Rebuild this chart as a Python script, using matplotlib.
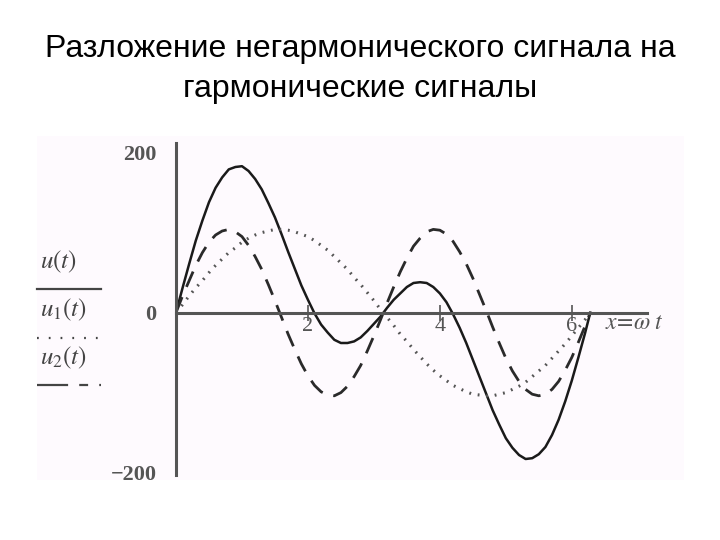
import matplotlib.pyplot as plt
from matplotlib.patches import Rectangle

plt.rcParams['mathtext.fontset'] = 'stix'

# values, x = omega*t
x = [0.0, 0.1, 0.2, 0.3, 0.4, 0.5, 0.6, 0.7, 0.8, 0.9, 1.0, 1.1, 1.2, 1.3, 1.4, 1.5,
     1.6, 1.7, 1.8, 1.9, 2.0, 2.1, 2.2, 2.3, 2.4, 2.5, 2.6, 2.7, 2.8, 2.9, 3.0, 3.1,
     3.2, 3.3, 3.4, 3.5, 3.6, 3.7, 3.8, 3.9, 4.0, 4.1, 4.2, 4.3, 4.4, 4.5, 4.6, 4.7,
     4.8, 4.9, 5.0, 5.1, 5.2, 5.3, 5.4, 5.5, 5.6, 5.7, 5.8, 5.9, 6.0, 6.1, 6.2, 6.28]
u1 = [0, 10, 21, 31, 40, 50, 59, 67, 75, 81, 88, 93, 97, 100, 102, 104,
      104, 103, 101, 98, 95, 90, 84, 78, 70, 62, 54, 44, 35, 25, 15, 4,
      -6, -16, -27, -36, -46, -55, -64, -72, -79, -85, -91, -95, -99, -102, -103, -104,
      -104, -102, -100, -96, -92, -87, -80, -73, -66, -57, -48, -39, -29, -19, -9, 0]
u2 = [0, 21, 40, 59, 75, 88, 97, 102, 104, 101, 95, 84, 70, 54, 35, 15,
      -6, -27, -46, -64, -79, -91, -99, -103, -104, -100, -92, -80, -66, -48, -29, -9,
      12, 32, 51, 68, 83, 93, 101, 104, 103, 98, 89, 76, 61, 43, 23, 3,
      -18, -38, -57, -73, -86, -96, -102, -104, -102, -96, -86, -72, -56, -37, -17, 0]
u = [0, 31, 61, 90, 115, 138, 156, 169, 179, 182, 183, 177, 167, 154, 137, 119,
     98, 76, 55, 34, 16, -1, -15, -25, -34, -38, -38, -36, -31, -23, -14, -5,
     6, 16, 24, 32, 37, 38, 37, 32, 24, 13, -2, -19, -38, -59, -80, -101,
     -122, -140, -157, -169, -178, -183, -182, -177, -168, -153, -134, -111, -85, -56, -26, 0]

yticks = [-200, 0, 200]
ytick_labels = ['\u2212200', '0', '200']
xticks = [2, 4, 6]

title = 'Разложение негармонического сигнала на\nгармонические сигналы'

W, H = 720, 540
fig = plt.figure(figsize=(7.2, 5.4), dpi=100)
fig.patch.set_facecolor('white')

# faint tinted panel behind the chart
fig.patches.append(Rectangle((37 / W, 1 - 480 / H), (684 - 37) / W, (480 - 136) / H,
                             transform=fig.transFigure, facecolor='#fefafe',
                             edgecolor='none', zorder=-5))

fig.text(0.5, 1 - 69 / H, title, ha='center', va='center', fontsize=23,
         family='Liberation Sans', linespacing=1.45)

# axes: x=0 at px 176, x=7.14 at px 647; y=212 at px 143, y=-203 at px 475
ax = fig.add_axes([176 / W, 1 - 475 / H, (647 - 176) / W, (475 - 143) / H])
ax.patch.set_alpha(0)
ax.set_zorder(2)
ax.set_xlim(0, 7.14)
ax.set_ylim(-203, 212)

ax.plot(x, u, color='#1a1a1a', lw=1.8, solid_joinstyle='round')
ax.plot(x, u1, color='#555555', lw=2.2, linestyle=(0, (0.6, 2.2)))
ax.plot(x, u2, color='#2a2a2a', lw=2.0, linestyle=(0, (6, 4)))

for side in ['top', 'right']:
    ax.spines[side].set_visible(False)
ax.spines['bottom'].set_position(('data', 0))
ax.spines['left'].set_color('#555555')
ax.spines['bottom'].set_color('#555555')
ax.spines['left'].set_linewidth(2.2)
ax.spines['bottom'].set_linewidth(2.2)

ax.set_yticks(yticks)
ax.set_yticklabels(ytick_labels, family='Liberation Serif', fontsize=16, color='#555555',
                   fontweight='bold')
ax.tick_params(axis='y', length=0, pad=14)
ax.set_xticks(xticks)
ax.set_xticklabels([str(t) for t in xticks], family='Liberation Serif', fontsize=16,
                   color='#555555')
ax.tick_params(axis='x', direction='inout', length=12, width=1.2, color='#555555', pad=-3)

ax.text(6.5, -12, r'$x\!=\!\omega\;t$', fontsize=17, color='#555555', ha='left', va='center')

# legend on the left, drawn as in the picture
leg_items = [(r'$u(t)$', 262, 289, '-'), (r'$u_1(t)$', 310, 338, (0, (0.8, 4.5))),
             (r'$u_2(t)$', 358, 385, (0, (14, 5, 4, 5)))]
for label, ty, ly, ls in leg_items:
    fig.text(40 / W, 1 - ty / H, label, fontsize=18, color='#444444', va='center',
             ha='left')
    fig.add_artist(plt.Line2D([37 / W, 101 / W], [1 - ly / H, 1 - ly / H],
                              transform=fig.transFigure, color='#444444', lw=1.6,
                              linestyle=ls))

fig.savefig('out.png', dpi=100)
